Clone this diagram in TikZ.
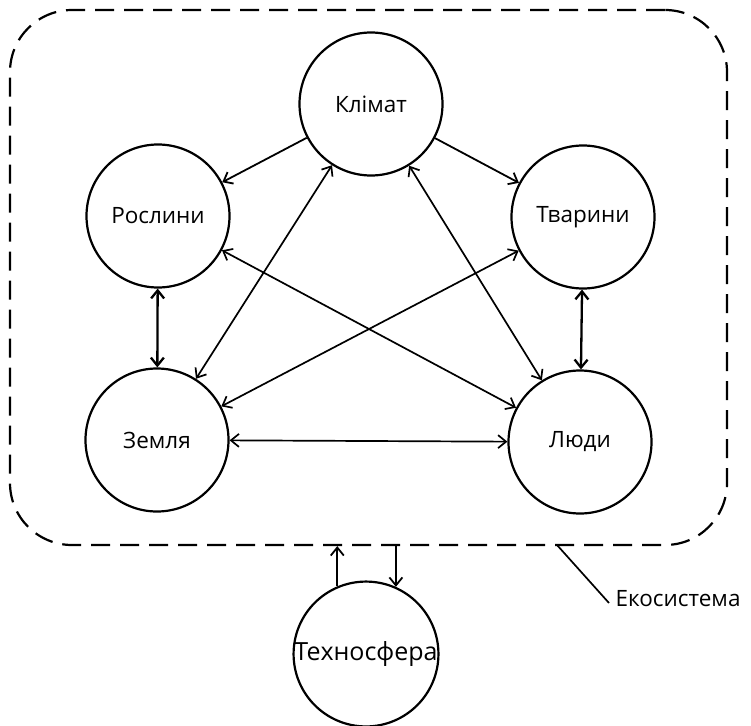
\documentclass[tikz,border=0pt]{standalone}
\usepackage{fontspec}
\setmainfont{Open Sans}
\usepackage{tikz}
\usetikzlibrary{arrows.meta,positioning,calc}

\begin{document}
\begin{tikzpicture}[x=1pt,y=-1pt,
  every node/.style={font=\fontsize{22.5}{26}\selectfont},
  sphere/.style={circle,draw,line width=2.2pt,minimum size=143pt,inner sep=0pt},
  ecobox/.style={draw,line width=2.2pt,dash pattern=on 19pt off 10pt,rounded corners=62pt,minimum width=717pt,minimum height=535pt},
  link/.style={line width=1.7pt,{Straight Barb[length=8pt,width=13pt]}-{Straight Barb[length=8pt,width=13pt]}},
  flow/.style={line width=1.8pt,-{Straight Barb[length=8pt,width=13pt]}}]
\useasboundingbox (0,0) rectangle (751,725);
\node[ecobox] (eco) at (368.5,277.5) {};
\node[sphere] (klimat) at (371,104) {Клімат};
\node[sphere] (roslyny) at (158,216) {Рослини};
\node[sphere] (tvaryny) at (583,217) {Тварини};
\node[sphere] (zemlia) at (157,440) {Земля};
\node[sphere] (liudy) at (580,442) {Люди};
\node[sphere,font=\fontsize{25}{28}\selectfont] (tekhno) at (366,654) {Техносфера};
% links inside the ecosystem
\draw[flow] (klimat) -- (roslyny);
\draw[flow] (klimat) -- (tvaryny);
\draw[link] (klimat) -- (zemlia);
\draw[link] (klimat) -- (liudy);
\draw[link] (roslyny) -- (liudy);
\draw[link] (tvaryny) -- (zemlia);
\draw[link,line width=2.3pt] (roslyny) -- (zemlia);
\draw[link,line width=2.3pt] (tvaryny) -- (liudy);
\draw[link] (zemlia) -- (liudy);
% exchange with the technosphere
\draw[flow] (tekhno.113) -- (tekhno.113 |- eco.south);
\draw[flow] (tekhno.66 |- eco.south) -- (tekhno.66);
\node[anchor=west] (ecolabel) at (612,599) {Екосистема};
\coordinate (lead) at (557,545);
\draw[line width=1.7pt] (lead) -- ([xshift=-3pt,yshift=-4pt]ecolabel.west);
\end{tikzpicture}
\end{document}
